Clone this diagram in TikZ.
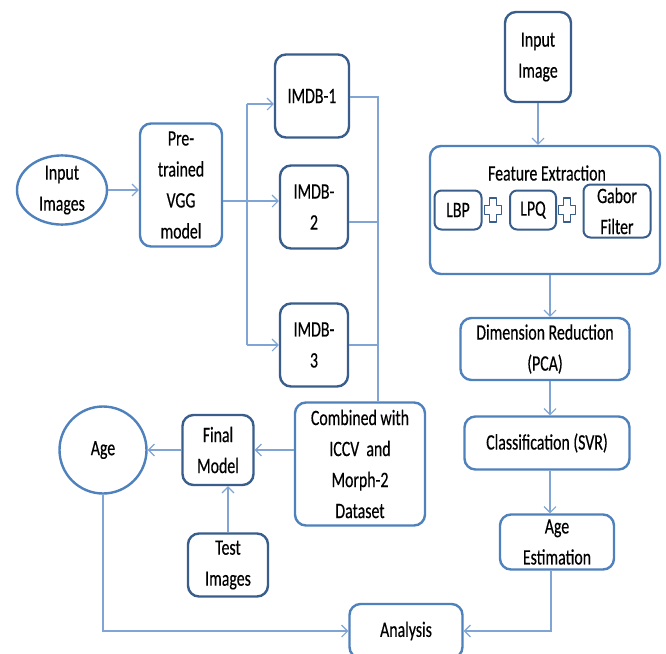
\documentclass[tikz,border=0pt]{standalone}
\usepackage{fontspec}
\setmainfont{Carlito}[FakeStretch=0.72,FakeBold=0.4]
\usetikzlibrary{arrows.meta,shapes.geometric}
\definecolor{dkb}{RGB}{58,94,140}
\definecolor{mdb}{RGB}{79,129,189}
\definecolor{lnb}{RGB}{128,164,212}
\begin{document}
\begin{tikzpicture}[x=1pt,y=-1pt,
  every node/.style={font=\fontsize{22}{31}\selectfont, text=black},
  bx/.style={draw=dkb, line width=2.4pt, rounded corners=11pt, align=center, inner sep=0pt, fill=white},
  bxl/.style={bx, draw=mdb},
  sbx/.style={bx, line width=2pt, rounded corners=7pt},
  ln/.style={draw=lnb, line width=1.3pt},
  ar/.style={ln, -{Straight Barb[length=6pt,width=12pt,line width=1.1pt]}},
  plusst/.style={draw=dkb, line width=1.8pt, line join=round}]
\fill[white] (0,0) rectangle (666,653);
\useasboundingbox (0,0) rectangle (666,653);

% left part
\node[bxl, ellipse, minimum width=90pt, minimum height=68pt] (inimgs) at (62,190) {Input\\Images};
\node[bxl, minimum width=82pt, minimum height=123pt] (pre) at (181,185) {Pre-\\trained\\VGG\\model};
\node[bx, minimum width=74pt, minimum height=83pt] (imdb1) at (312,96) {IMDB-1};
\node[bx, minimum width=68pt, minimum height=83pt] (imdb2) at (314,207) {IMDB-\\2};
\node[bx, minimum width=68pt, minimum height=83pt] (imdb3) at (314,345) {IMDB-\\3};
\node[bxl, minimum width=130pt, minimum height=123pt] (comb) at (360,464) {Combined with\\ICCV\ \ and\\Morph-2\\Dataset};
\node[bx, minimum width=71pt, minimum height=70pt] (fin) at (218,450) {Final\\Model};
\node[bxl, circle, minimum size=87pt] (age) at (103,450) {Age};
\node[bx, minimum width=80pt, minimum height=63pt] (test) at (228,565) {Test\\Images};
\node[bxl, minimum width=113pt, minimum height=54pt] (ana) at (406,631) {Analysis};

% right part
\node[bx, minimum width=66pt, minimum height=90pt] (inimg) at (538,57) {Input\\Image};
\node[bxl, minimum width=230pt, minimum height=128pt] (fe) at (545,210) {};
\node[inner sep=0pt] (fet) at (547,173) {Feature Extraction};
\node[sbx, minimum width=47pt, minimum height=39pt] (lbp) at (458,210) {LBP};
\node[sbx, minimum width=46pt, minimum height=39pt] (lpq) at (533,210) {LPQ};
\node[sbx, minimum width=67pt, minimum height=53pt] (gab) at (617,211) {Gabor\\Filter};
\foreach \px in {493,567}
  \draw[plusst, shift={(\px,210)}] (-3.5,-12) -- (3.5,-12) -- (3.5,-4.5) -- (8.5,-4.5) -- (8.5,4.5) -- (3.5,4.5) -- (3.5,12) -- (-3.5,12) -- (-3.5,4.5) -- (-8.5,4.5) -- (-8.5,-4.5) -- (-3.5,-4.5) -- cycle;
\node[bxl, minimum width=169pt, minimum height=62pt] (dr) at (545,349) {Dimension Reduction\\(PCA)};
\node[bxl, minimum width=165pt, minimum height=53pt] (cls) at (547,443) {Classification (SVR)};
\node[bxl, minimum width=114pt, minimum height=55pt] (ae) at (557,542) {Age\\Estimation};

% connectors, left
\coordinate (j1) at (247,104);
\coordinate (j2) at (247,201);
\coordinate (j3) at (247,345);
\coordinate (k1) at (378,97);
\coordinate (k2) at (378,222);
\coordinate (k3) at (378,345);
\draw[ar] (inimgs.east) -- (inimgs.east -| pre.west);
\draw[ln] (pre.east |- j2) -- (j2);
\draw[ln] (j1) -- (j3);
\draw[ar] (j1) -- (j1 -| imdb1.west);
\draw[ar] (j2) -- (j2 -| imdb2.west);
\draw[ar] (j3) -- (j3 -| imdb3.west);
\draw[ln] (imdb1.east |- k1) -- (k1) -- (k1 |- comb.north);
\draw[ln] (imdb2.east |- k2) -- (k2);
\draw[ln] (imdb3.east |- k3) -- (k3);
\draw[ar] (comb.west |- fin) -- (fin.east);
\draw[ar] (fin.west) -- (age.east);
\draw[ar] (test.north) -- (test.north |- fin.south);
\draw[ar] (age.south) |- (ana.west);

% connectors, right
\coordinate (rx) at (550,0);
\draw[ar] (inimg.south) -- (inimg.south |- fe.north);
\draw[ar] (fe.south -| rx) -- (dr.north -| rx);
\draw[ar] (dr.south -| rx) -- (cls.north -| rx);
\draw[ar] (cls.south -| rx) -- (ae.north -| rx);
\coordinate (ax) at (551,0);
\draw[ar] (ae.south -| ax) |- (ana.east);
\end{tikzpicture}
\end{document}
